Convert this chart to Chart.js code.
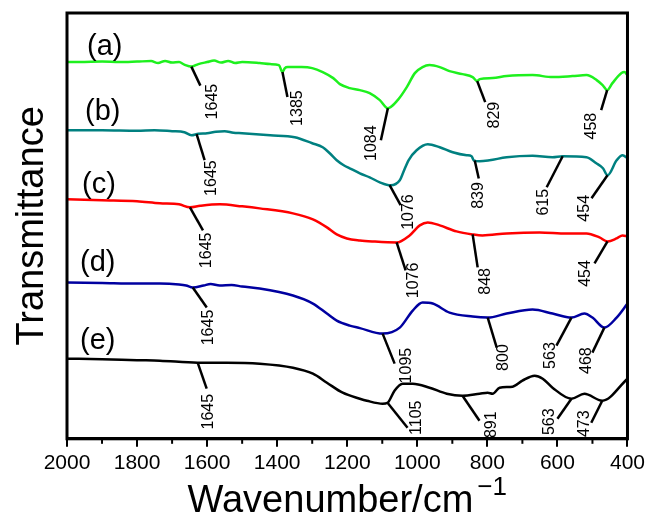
<!DOCTYPE html>
<html>
<head>
<meta charset="utf-8">
<script src="https://cdn.jsdelivr.net/npm/chart.js@4.4.0/dist/chart.umd.min.js"></script>
<style>
  html, body { margin: 0; padding: 0; background: #fff; }
</style>
</head>
<body>
<canvas id="myChart" width="649" height="517"></canvas>
<script>
// wavenumbers (cm-1) and transmittance (a.u., curves offset)
var wnA = [2000,1950,1900,1850,1800,1760,1740,1720,1700,1680,1665,1645,1625,1600,1580,1560,1540,1520,1500,1450,1420,1395,1385,1378,1370,1330,1300,1270,1240,1221,1193,1164,1136,1107,1084,1056,1030,1007,985,965,936,908,871,842,829,822,785,745,671,614,557,517,488,471,458,443,417,409,400];
var trA = [37.6,37.62,37.65,37.6,37.65,37.7,37.5,37.72,37.55,37.6,37.35,37.15,37.4,37.6,37.75,37.55,37.72,37.5,37.6,37.5,37.4,37.3,36.6,37.0,37.1,37.1,37.0,36.6,36.0,35.4,35.0,34.8,34.5,33.8,33.0,33.8,35.1,36.5,37.1,37.3,37.1,36.7,36.4,36.1,35.7,35.9,36.0,36.2,36.3,36.1,36.2,36.3,35.8,35.3,34.8,35.5,36.5,36.6,36.3];

var wnB = [2000,1900,1800,1750,1700,1665,1645,1625,1600,1575,1550,1525,1500,1420,1350,1300,1270,1250,1230,1210,1193,1164,1136,1107,1076,1050,1040,1025,1002,970,936,899,859,845,839,822,794,745,671,614,585,517,489,470,457,431,414,400];
var trB = [30.8,30.8,30.75,30.8,30.7,30.6,30.3,30.45,30.5,30.65,30.7,30.55,30.5,30.3,30.1,29.5,29.1,28.5,27.8,27.3,27.0,26.5,26.1,25.6,25.3,25.8,26.6,27.8,28.8,29.4,29.1,28.6,28.3,28.2,27.8,27.7,27.8,28.1,28.25,28.1,28.2,28.1,27.5,27.0,26.3,27.8,28.3,28.0];

var wnC = [2000,1900,1800,1735,1680,1649,1620,1564,1500,1450,1355,1298,1258,1230,1201,1164,1127,1059,1022,993,970,936,888,842,814,745,651,574,517,480,457,431,414,400];
var trC = [23.9,23.8,23.7,23.5,23.4,23.1,23.25,23.4,23.2,23.0,22.5,21.9,21.1,20.4,20.0,19.8,19.7,19.6,20.3,21.3,21.6,21.3,20.7,20.4,20.3,20.5,20.6,20.5,20.5,20.1,19.7,20.0,20.3,20.2];

var wnD = [2000,1900,1800,1735,1680,1660,1641,1610,1590,1564,1530,1500,1450,1355,1298,1258,1230,1193,1164,1099,1050,1013,985,956,908,842,799,745,671,614,560,523,500,466,431,400];
var trD = [15.6,15.55,15.5,15.5,15.4,15.3,15.1,15.3,15.45,15.3,15.35,15.2,15.0,14.3,13.5,12.5,11.8,11.3,11.05,10.5,11.1,12.8,13.6,13.5,12.6,12.2,12.1,12.5,12.9,12.5,12.1,12.5,12.1,11.1,12.1,13.5];

var wnE = [2000,1900,1800,1735,1627,1544,1450,1355,1298,1258,1213,1164,1144,1099,1085,1065,1042,1013,965,916,871,822,799,785,765,728,700,665,642,614,560,523,472,400];
var trE = [8.0,7.95,7.85,7.8,7.6,7.6,7.5,7.1,6.5,5.6,4.6,4.0,3.8,3.5,3.6,4.8,5.5,5.5,5.1,4.5,4.3,4.5,4.6,4.5,5.1,5.2,5.8,6.3,6.0,5.1,4.0,4.5,3.8,6.0];

var sampleNames = ['(a)', '(b)', '(c)', '(d)', '(e)'];
var xTicks = [2000, 1800, 1600, 1400, 1200, 1000, 800, 600, 400];

// band labels and where each leader line leaves the curve
var peakLabels = [
  ['1645', '1385', '1084', '829', '458'],
  ['1645', '1076', '839', '615', '454'],
  ['1645', '1076', '848', '454'],
  ['1645', '1095', '800', '563', '468'],
  ['1645', '1105', '891', '563', '473']
];
var peakPos = [
  [1645, 1385, 1084, 829, 458],
  [1630, 1079, 836, 585, 457],
  [1649, 1059, 842, 457],
  [1641, 1099, 799, 560, 466],
  [1627, 1085, 871, 560, 472]
];

// leader line end [dx, dy] and label centre [tx, ty], px from the curve point
var leaderOffsets = [
  [[9,19,21,35],[5,25,15,36],[-7,32,-16,35],[8,21,17,34],[-6,20,-16,36]],
  [[8,26,15,44],[11,20,19,27],[4,18,4,35],[-16,31,-19,46],[-16,23,-23,33]],
  [[13,23,17,43],[9,28,17,38],[5,33,13,47],[-13,22,-22,32]],
  [[14,20,16,40],[12,30,24,32],[9,30,16,40],[-15,28,-21,38],[-12,25,-18,33]],
  [[9,26,11,49],[20,25,29,15],[17,25,29,29],[-14,20,-22,23],[-11,22,-18,23]]
];
var nameOffsets = [[20,-7],[18,-10],[15,-6],[13,-12],[13,-10]];

var colors = ['#1ef01e', '#008080', '#ff0000', '#0000a0', '#000000'];
var wns = [wnA, wnB, wnC, wnD, wnE];
var trs = [trA, trB, trC, trD, trE];

var FONT = '"Liberation Sans", Arial, sans-serif';

function toPoints(wn, tr) {
  var pts = [];
  for (var i = 0; i < wn.length; i++) pts.push({x: wn[i], y: tr[i]});
  return pts;
}

function valueAt(wn, tr, w) {
  for (var i = 0; i < wn.length - 1; i++) {
    if (w <= wn[i] && w >= wn[i + 1]) {
      var f = (wn[i] - w) / (wn[i] - wn[i + 1]);
      return tr[i] + f * (tr[i + 1] - tr[i]);
    }
  }
  return tr[tr.length - 1];
}

var datasets = [];
for (var s = 0; s < 5; s++) {
  datasets.push({
    label: sampleNames[s],
    data: toPoints(wns[s], trs[s]),
    borderColor: colors[s],
    borderWidth: 2.5,
    pointRadius: 0,
    cubicInterpolationMode: 'monotone',
    fill: false
  });
}

var decor = {
  id: 'decor',
  afterDraw: function(chart) {
    var ctx = chart.ctx;
    var a = chart.chartArea;
    var xs = chart.scales.x, ys = chart.scales.y;
    ctx.save();

    // frame
    ctx.strokeStyle = '#000';
    ctx.lineWidth = 3;
    ctx.strokeRect(a.left, a.top, a.right - a.left, a.bottom - a.top);

    // minor ticks
    ctx.lineWidth = 2;
    for (var m = 500; m < 2000; m += 200) {
      var mx = xs.getPixelForValue(m);
      ctx.beginPath();
      ctx.moveTo(mx, a.bottom);
      ctx.lineTo(mx, a.bottom + 5);
      ctx.stroke();
    }

    // peak leaders + labels
    ctx.fillStyle = '#000';
    ctx.font = '16px ' + FONT;
    ctx.textAlign = 'center';
    ctx.textBaseline = 'middle';
    for (var i = 0; i < peakPos.length; i++) {
      for (var j = 0; j < peakPos[i].length; j++) {
        var w = peakPos[i][j];
        var px = xs.getPixelForValue(w);
        var py = ys.getPixelForValue(valueAt(wns[i], trs[i], w));
        var o = leaderOffsets[i][j];
        ctx.lineWidth = 2.5;
        ctx.beginPath();
        ctx.moveTo(px, py);
        ctx.lineTo(px + o[0], py + o[1]);
        ctx.stroke();
        ctx.save();
        ctx.translate(px + o[2], py + o[3]);
        ctx.rotate(-Math.PI / 2);
        ctx.fillText(peakLabels[i][j], 0, 0);
        ctx.restore();
      }
    }

    // sample names
    ctx.font = '29px ' + FONT;
    ctx.textAlign = 'left';
    ctx.textBaseline = 'alphabetic';
    for (var k = 0; k < 5; k++) {
      var ny = ys.getPixelForValue(trs[k][0]);
      ctx.fillText(sampleNames[k], a.left + nameOffsets[k][0], ny + nameOffsets[k][1]);
    }

    // y title
    ctx.save();
    ctx.font = '38px ' + FONT;
    ctx.textAlign = 'center';
    ctx.translate(43, (a.top + a.bottom) / 2);
    ctx.rotate(-Math.PI / 2);
    ctx.fillText('Transmittance', 0, 0);
    ctx.restore();

    // x title with superscript
    ctx.font = '38px ' + FONT;
    var main = 'Wavenumber/cm';
    var mw = ctx.measureText(main).width;
    ctx.font = '26px ' + FONT;
    var sup = '\u22121';
    var sw = ctx.measureText(sup).width;
    var x0 = (a.left + a.right) / 2 - (mw + sw + 4) / 2;
    ctx.font = '38px ' + FONT;
    ctx.fillText(main, x0, 512);
    ctx.font = '26px ' + FONT;
    ctx.fillText(sup, x0 + mw + 4, 495);

    ctx.restore();
  }
};

var ctx = document.getElementById('myChart').getContext('2d');
var chart = new Chart(ctx, {
  type: 'line',
  data: { datasets: datasets },
  options: {
    responsive: false,
    animation: false,
    devicePixelRatio: 1,
    layout: { padding: { left: 67, right: 21, top: 13, bottom: 37 } },
    plugins: { legend: { display: false }, tooltip: { enabled: false } },
    scales: {
      x: {
        type: 'linear',
        reverse: true,
        min: 400,
        max: 2000,
        afterBuildTicks: function(scale) {
          scale.ticks = xTicks.map(function(v) { return {value: v}; });
        },
        ticks: {
          autoSkip: false,
          maxRotation: 0,
          padding: 4,
          color: '#000',
          font: { family: FONT, size: 21 },
          callback: function(v) { return String(v); }
        },
        grid: { drawOnChartArea: false, drawTicks: true, tickLength: 8, color: '#000', lineWidth: 2 },
        border: { display: true, color: '#000', width: 3 }
      },
      y: {
        display: false,
        min: 0,
        max: 42.5
      }
    }
  },
  plugins: [decor]
});
</script>
</body>
</html>
